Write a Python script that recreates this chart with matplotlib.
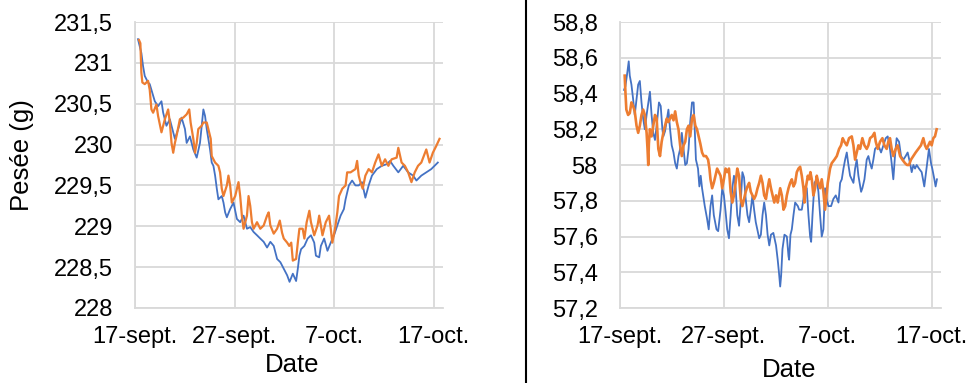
import matplotlib

matplotlib.use("Agg")
import matplotlib.pyplot as plt
import pandas as pd
from matplotlib.lines import Line2D

plt.rcParams["font.family"] = ["Liberation Sans", "DejaVu Sans"]

START = pd.Timestamp("2020-09-17")
TICK_DAYS = [0, 10, 20, 30]
TICK_LABELS = ["17-sept.", "27-sept.", "7-oct.", "17-oct."]

# left panel (g) - days since 17 Sept
left_blue_days = [0.30, 0.64, 0.81, 0.98, 1.31, 1.48, 1.82, 1.99, 2.32, 2.66, 2.83, 3.16, 3.50, 3.84,
                  4.01, 4.34, 4.68, 5.02, 5.19, 5.52, 5.86, 6.20, 6.53, 6.87, 7.04, 7.21, 7.54, 7.71,
                  7.88, 8.05, 8.22, 8.38, 8.72, 8.89, 9.06, 9.23, 9.56, 9.90, 10.24, 10.57, 10.91,
                  11.25, 11.58, 11.92, 12.26, 12.59, 12.93, 13.27, 13.60, 13.94, 14.11, 14.28, 14.61,
                  14.95, 15.29, 15.53, 15.86, 16.19, 16.36, 16.52, 16.69, 17.02, 17.35, 17.68, 18.01,
                  18.18, 18.51, 18.68, 19.01, 19.34, 19.67, 20.00, 20.33, 20.66, 20.99, 21.16, 21.49,
                  21.82, 22.15, 22.48, 22.81, 23.15, 23.48, 23.81, 24.30, 24.80, 25.30, 25.63, 25.96,
                  26.46, 26.95, 27.45, 27.95, 28.28, 28.77, 29.27, 29.77, 30.10, 30.43]
left_blue = [231.29, 231.12, 230.96, 230.84, 230.76, 230.74, 230.60, 230.53, 230.47, 230.53, 230.39,
             230.23, 230.31, 230.15, 230.07, 230.19, 230.33, 230.19, 230.02, 230.10, 229.94, 229.84,
             230.02, 230.43, 230.35, 230.19, 229.94, 229.78, 229.74, 229.62, 229.46, 229.33, 229.37,
             229.29, 229.17, 229.11, 229.21, 229.29, 229.09, 229.05, 229.13, 228.97, 228.99, 228.93,
             228.89, 228.85, 228.81, 228.74, 228.81, 228.76, 228.68, 228.60, 228.56, 228.48, 228.40,
             228.32, 228.42, 228.33, 228.48, 228.64, 228.72, 228.76, 228.85, 228.89, 228.80, 228.64,
             228.62, 228.76, 228.85, 228.70, 228.80, 228.89, 229.01, 229.13, 229.21, 229.33, 229.50,
             229.56, 229.50, 229.50, 229.54, 229.35, 229.50, 229.62, 229.70, 229.74, 229.76, 229.80,
             229.74, 229.66, 229.74, 229.66, 229.62, 229.56, 229.62, 229.66, 229.70, 229.74, 229.78]

left_orange_days = [0.40, 0.54, 0.64, 0.74, 0.98, 1.31, 1.48, 1.65, 1.82, 2.15, 2.32, 2.66, 3.00, 3.33,
                    3.50, 3.67, 3.84, 4.01, 4.18, 4.51, 4.85, 5.19, 5.45, 5.59, 5.86, 6.03, 6.20, 6.36,
                    6.70, 6.87, 7.21, 7.37, 7.61, 7.71, 8.05, 8.38, 8.55, 8.72, 8.89, 9.23, 9.39, 9.56,
                    9.73, 10.07, 10.40, 10.57, 10.74, 10.91, 11.25, 11.41, 11.58, 11.75, 11.92, 12.26,
                    12.59, 12.93, 13.27, 13.43, 13.60, 13.94, 14.28, 14.55, 14.78, 14.95, 15.29, 15.50,
                    15.70, 15.86, 16.19, 16.36, 16.52, 16.85, 17.02, 17.25, 17.52, 17.68, 18.01, 18.34,
                    18.51, 18.84, 19.17, 19.50, 19.67, 19.83, 20.10, 20.33, 20.50, 20.83, 21.16, 21.32,
                    21.66, 22.15, 22.32, 22.48, 22.65, 22.88, 23.15, 23.48, 23.81, 24.14, 24.47, 24.80,
                    25.13, 25.46, 25.79, 26.29, 26.46, 26.79, 27.12, 27.45, 27.78, 28.11, 28.44, 28.77,
                    29.27, 29.60, 29.93, 30.26, 30.60]
left_orange = [231.28, 231.24, 230.88, 230.76, 230.74, 230.78, 230.67, 230.43, 230.39, 230.49, 230.35,
               230.15, 230.31, 230.43, 230.27, 230.02, 229.90, 230.02, 230.11, 230.31, 230.33, 230.37,
               230.43, 230.27, 230.07, 229.90, 230.02, 230.19, 230.23, 230.27, 230.27, 230.19, 230.07,
               229.86, 229.78, 229.74, 229.66, 229.46, 229.37, 229.50, 229.62, 229.50, 229.29, 229.37,
               229.54, 229.37, 229.13, 228.97, 229.13, 229.37, 229.25, 229.05, 228.97, 229.05, 228.97,
               229.01, 229.13, 229.17, 229.01, 228.91, 228.97, 229.07, 228.92, 228.85, 228.80, 228.76,
               228.80, 228.58, 228.60, 228.80, 228.97, 228.97, 228.85, 229.05, 229.19, 229.05, 228.89,
               229.01, 229.13, 228.89, 229.05, 229.13, 228.97, 228.80, 228.97, 229.17, 229.37, 229.46,
               229.50, 229.66, 229.66, 229.70, 229.80, 229.62, 229.54, 229.46, 229.62, 229.70, 229.66,
               229.78, 229.88, 229.74, 229.82, 229.74, 229.82, 229.84, 229.96, 229.78, 229.74, 229.66,
               229.54, 229.66, 229.74, 229.78, 229.94, 229.78, 229.90, 229.98, 230.07]

# right panel (g)
right_blue_days = [0.39, 0.52, 0.71, 0.84, 0.94, 1.10, 1.26, 1.42, 1.59, 1.75, 1.91, 2.07, 2.23, 2.39,
                   2.56, 2.78, 2.88, 3.04, 3.20, 3.37, 3.53, 3.75, 3.92, 4.08, 4.17, 4.34, 4.66, 4.82,
                   4.98, 5.15, 5.31, 5.47, 5.63, 5.79, 5.95, 6.12, 6.28, 6.44, 6.60, 6.76, 6.93, 7.09,
                   7.18, 7.31, 7.51, 7.64, 7.77, 7.90, 8.16, 8.38, 8.54, 8.71, 8.87, 9.03, 9.29, 9.45,
                   9.68, 9.84, 10.00, 10.16, 10.32, 10.49, 10.65, 10.81, 10.97, 11.13, 11.29, 11.46,
                   11.62, 11.78, 11.94, 12.10, 12.27, 12.43, 12.59, 12.75, 12.91, 13.07, 13.40, 13.56,
                   13.72, 13.88, 14.05, 14.21, 14.37, 14.53, 14.76, 15.02, 15.18, 15.30, 15.42, 15.51,
                   15.64, 15.83, 16.06, 16.22, 16.28, 16.41, 16.54, 16.70, 16.86, 17.12, 17.24, 17.50,
                   17.66, 17.82, 17.98, 18.14, 18.30, 18.40, 18.53, 18.72, 18.94, 19.10, 19.26, 19.42,
                   19.58, 19.74, 19.90, 20.06, 20.32, 20.54, 20.77, 21.03, 21.19, 21.35, 21.51, 21.67,
                   21.83, 21.99, 22.15, 22.31, 22.47, 22.63, 22.79, 22.95, 23.21, 23.33, 23.53, 23.75,
                   23.91, 24.07, 24.23, 24.39, 24.55, 24.87, 25.13, 25.35, 25.58, 25.77, 25.99, 26.15,
                   26.31, 26.47, 26.63, 26.86, 27.05, 27.28, 27.50, 27.69, 27.92, 28.08, 28.24, 28.40,
                   28.56, 28.78, 29.04, 29.29, 29.42, 29.62, 29.74, 29.94, 30.06, 30.26, 30.38, 30.51]
right_blue = [58.42, 58.44, 58.52, 58.58, 58.50, 58.45, 58.37, 58.28, 58.37, 58.45, 58.47, 58.35,
              58.26, 58.20, 58.28, 58.37, 58.41, 58.28, 58.18, 58.14, 58.22, 58.35, 58.33, 58.20,
              58.16, 58.19, 58.31, 58.20, 58.11, 58.07, 58.01, 57.98, 58.05, 58.09, 58.18, 58.09,
              58.00, 58.01, 58.09, 58.24, 58.35, 58.35, 58.22, 58.03, 57.98, 57.88, 57.94, 57.87,
              57.77, 57.70, 57.64, 57.77, 57.83, 57.72, 57.64, 57.63, 57.75, 57.87, 57.83, 57.74,
              57.64, 57.59, 57.72, 57.87, 57.94, 57.87, 57.72, 57.66, 57.79, 57.96, 57.93, 57.81,
              57.72, 57.68, 57.75, 57.83, 57.75, 57.68, 57.59, 57.61, 57.72, 57.79, 57.72, 57.61,
              57.55, 57.61, 57.62, 57.55, 57.47, 57.40, 57.32, 57.38, 57.53, 57.61, 57.60, 57.49,
              57.47, 57.61, 57.64, 57.72, 57.79, 57.77, 57.75, 57.75, 57.81, 57.88, 57.87, 57.72,
              57.60, 57.57, 57.72, 57.90, 57.92, 57.85, 57.72, 57.60, 57.64, 57.87, 57.81, 57.77,
              57.77, 57.81, 57.83, 57.79, 57.90, 57.92, 57.98, 58.03, 58.07, 58.00, 57.94, 57.92,
              57.90, 57.98, 58.03, 57.94, 57.85, 57.87, 57.92, 58.03, 58.05, 58.01, 57.98, 58.03,
              58.09, 58.11, 58.07, 58.11, 58.15, 58.16, 58.09, 58.01, 57.92, 58.05, 58.15, 58.13,
              58.05, 58.03, 58.05, 58.07, 58.01, 57.96, 58.00, 57.98, 58.00, 57.98, 57.96, 57.88,
              57.94, 58.03, 58.09, 58.01, 57.98, 57.92, 57.88, 57.92]

right_orange_days = [0.45, 0.52, 0.61, 0.78, 0.94, 1.10, 1.26, 1.42, 1.59, 1.75, 1.91, 2.07, 2.23,
                     2.39, 2.56, 2.65, 2.72, 2.78, 2.88, 3.04, 3.20, 3.37, 3.53, 3.69, 3.85, 4.01,
                     4.17, 4.34, 4.50, 4.66, 4.82, 4.98, 5.15, 5.31, 5.47, 5.63, 5.79, 5.95, 6.12,
                     6.28, 6.44, 6.60, 6.76, 6.93, 7.09, 7.25, 7.41, 7.57, 7.73, 7.90, 8.06, 8.28,
                     8.48, 8.61, 8.71, 8.87, 9.03, 9.19, 9.35, 9.51, 9.68, 9.84, 10.00, 10.16, 10.32,
                     10.49, 10.65, 10.81, 10.97, 11.13, 11.29, 11.46, 11.62, 11.78, 11.94, 12.10,
                     12.27, 12.43, 12.59, 12.75, 12.91, 13.07, 13.24, 13.40, 13.56, 13.72, 13.88,
                     14.05, 14.21, 14.37, 14.53, 14.69, 14.85, 15.02, 15.18, 15.42, 15.58, 15.74,
                     15.90, 16.06, 16.22, 16.38, 16.54, 16.70, 16.86, 17.02, 17.18, 17.34, 17.50,
                     17.66, 17.76, 17.88, 18.08, 18.21, 18.33, 18.46, 18.62, 18.78, 18.94, 19.10,
                     19.26, 19.42, 19.58, 19.74, 19.84, 20.00, 20.22, 20.38, 20.64, 20.87, 21.09,
                     21.28, 21.44, 21.60, 21.83, 22.05, 22.31, 22.47, 22.63, 22.79, 22.95, 23.11,
                     23.33, 23.53, 23.75, 23.91, 24.07, 24.29, 24.49, 24.62, 24.81, 25.03, 25.26,
                     25.45, 25.67, 25.83, 25.99, 26.15, 26.31, 26.54, 26.73, 26.96, 27.18, 27.44,
                     27.63, 27.82, 28.01, 28.24, 28.46, 28.72, 28.97, 29.20, 29.36, 29.52, 29.68,
                     29.84, 30.00, 30.16, 30.32, 30.48]
right_orange = [58.50, 58.41, 58.31, 58.28, 58.29, 58.35, 58.33, 58.30, 58.22, 58.18, 58.22, 58.28,
                58.31, 58.28, 58.18, 58.09, 58.00, 58.12, 58.20, 58.16, 58.22, 58.28, 58.26, 58.09,
                58.05, 58.13, 58.18, 58.22, 58.26, 58.24, 58.26, 58.28, 58.25, 58.30, 58.24, 58.20,
                58.11, 58.05, 58.11, 58.13, 58.20, 58.22, 58.16, 58.26, 58.28, 58.22, 58.20, 58.16,
                58.12, 58.07, 58.05, 58.05, 58.03, 57.98, 57.92, 57.87, 57.90, 57.94, 57.98, 57.96,
                57.94, 57.87, 57.92, 57.98, 57.96, 57.98, 57.85, 57.79, 57.83, 57.90, 57.98, 57.94,
                57.81, 57.77, 57.81, 57.85, 57.88, 57.90, 57.85, 57.83, 57.81, 57.83, 57.87, 57.90,
                57.94, 57.90, 57.83, 57.81, 57.87, 57.92, 57.87, 57.83, 57.79, 57.83, 57.79, 57.87,
                57.83, 57.75, 57.77, 57.83, 57.87, 57.90, 57.92, 57.88, 57.90, 57.96, 57.98, 57.99,
                57.94, 57.87, 57.79, 57.87, 57.94, 57.92, 57.96, 57.92, 57.83, 57.87, 57.94, 57.90,
                57.87, 57.92, 57.85, 57.75, 57.81, 57.90, 57.98, 58.01, 58.03, 58.05, 58.09, 58.11,
                58.15, 58.13, 58.11, 58.15, 58.16, 58.11, 58.03, 58.07, 58.11, 58.09, 58.15, 58.11,
                58.09, 58.11, 58.15, 58.16, 58.18, 58.13, 58.09, 58.13, 58.15, 58.11, 58.09, 58.13,
                58.15, 58.09, 58.05, 58.09, 58.11, 58.05, 58.03, 58.01, 58.00, 58.00, 58.03, 58.05,
                58.07, 58.09, 58.11, 58.15, 58.11, 58.09, 58.11, 58.13, 58.11, 58.15, 58.16, 58.20]

left_yticks = [228, 228.5, 229, 229.5, 230, 230.5, 231, 231.5]
left_ylabels = ["228", "228,5", "229", "229,5", "230", "230,5", "231", "231,5"]
right_yticks = [57.2, 57.4, 57.6, 57.8, 58.0, 58.2, 58.4, 58.6, 58.8]
right_ylabels = ["57,2", "57,4", "57,6", "57,8", "58", "58,2", "58,4", "58,6", "58,8"]

BLUE = "#4472C4"
ORANGE = "#ED7D31"
GRID = "#D9D9D9"
W, H = 970, 383


def to_dates(days):
    return START + pd.to_timedelta(days, unit="D")


def style_axis(ax, yticks, ylabels, xmax):
    ax.set_xlim(START, START + pd.Timedelta(days=xmax))
    ax.set_ylim(yticks[0], yticks[-1])
    ax.set_yticks(yticks)
    ax.set_yticklabels(ylabels)
    ax.set_xticks(to_dates(TICK_DAYS))
    ax.set_xticklabels(TICK_LABELS)
    ax.grid(True, color=GRID, lw=1.3)
    ax.set_axisbelow(True)
    for side in ("top", "right"):
        ax.spines[side].set_visible(False)
    for side in ("left", "bottom"):
        ax.spines[side].set_color(GRID)
        ax.spines[side].set_linewidth(1.3)
    ax.tick_params(axis="both", length=0, labelsize=17, colors="black")
    ax.tick_params(axis="y", pad=16)
    ax.tick_params(axis="x", pad=13)


fig = plt.figure(figsize=(W / 100, H / 100), dpi=100)

ax1 = fig.add_axes([135 / W, 75 / H, 308 / W, 286 / H])
ax1.plot(to_dates(left_blue_days), left_blue, color=BLUE, lw=1.3)
ax1.plot(to_dates(left_orange_days), left_orange, color=ORANGE, lw=1.6)
style_axis(ax1, left_yticks, left_ylabels, 30.95)
ax1.set_ylabel("Pesée (g)", fontsize=18.5)
ax1.yaxis.set_label_coords(-0.367, 0.535)
ax1.yaxis.label.set_verticalalignment("center")
ax1.set_xlabel("Date", fontsize=18.5)
ax1.xaxis.set_label_coords(0.51, -0.2)
ax1.xaxis.label.set_verticalalignment("center")

ax2 = fig.add_axes([620 / W, 75 / H, 321 / W, 286 / H])
ax2.plot(to_dates(right_blue_days), right_blue, color=BLUE, lw=1.3)
ax2.plot(to_dates(right_orange_days), right_orange, color=ORANGE, lw=1.9)
style_axis(ax2, right_yticks, right_ylabels, 30.9)
ax2.set_xlabel("Date", fontsize=18.5)
ax2.xaxis.set_label_coords(0.526, -0.218)
ax2.xaxis.label.set_verticalalignment("center")

fig.add_artist(Line2D([526 / W, 526 / W], [0, 1], transform=fig.transFigure, color="black", lw=1.5))

fig.savefig("out.png", dpi=100)
